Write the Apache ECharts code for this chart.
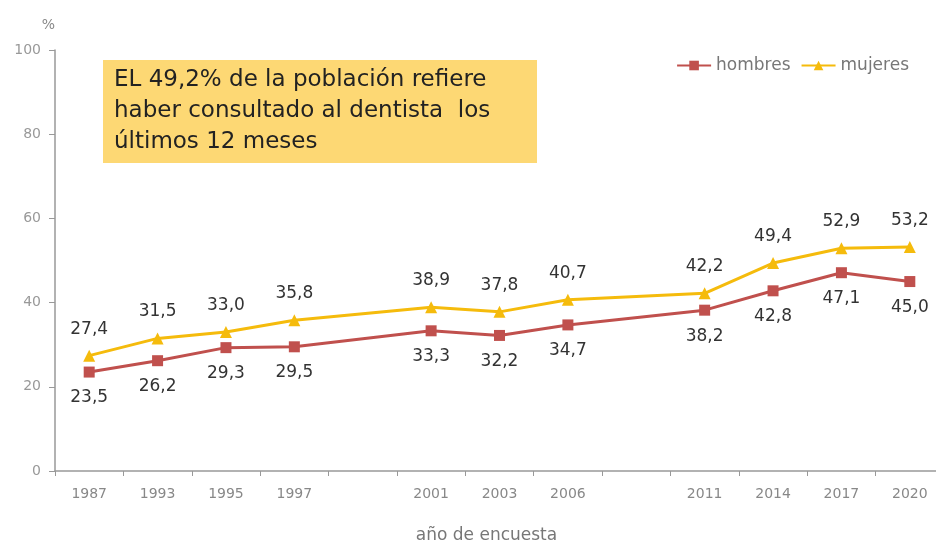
<!DOCTYPE html>
<html>
<head>
<meta charset="utf-8">
<script src="https://cdn.jsdelivr.net/npm/echarts@6/dist/echarts.min.js"></script>
<style>html,body{margin:0;padding:0;background:#fff}#c{width:936px;height:544px}</style>
</head>
<body>
<div id="c"></div>
<script>
var categories = ['1987','1993','1995','1997',' ','2001','2003','2006','  ','2011','2014','2017','2020'];
var hombres = [23.5,26.2,29.3,29.5,null,33.3,32.2,34.7,null,38.2,42.8,47.1,45.0];
var mujeres = [27.4,31.5,33.0,35.8,null,38.9,37.8,40.7,null,42.2,49.4,52.9,53.2];
var yTicks = [0,20,40,60,80,100];
var note = ['EL 49,2% de la población refiere','haber consultado al dentista  los','últimos 12 meses'];

var FONT = 'DejaVu Sans';
function fmt(p){ return p.value == null ? '' : p.value.toFixed(1).replace('.', ','); }

var chart = echarts.init(document.getElementById('c'));
chart.setOption({
  animation: false,
  textStyle: { fontFamily: FONT },
  grid: { left: 55, top: 50, width: 889, height: 421, containLabel: false, outerBoundsMode: 'none' },
  legend: {
    right: 22, top: 52, itemWidth: 34, itemHeight: 12, itemGap: 10,
    textStyle: { color: '#777', fontSize: 17, fontFamily: FONT },
    data: ['hombres','mujeres']
  },
  graphic: [
    { type: 'rect', left: 103, top: 60, shape: { width: 434, height: 103 }, style: { fill: '#FDD874' }, z: 10 },
    { type: 'text', left: 114, top: 65, z: 11,
      style: { text: note.join('\n'), fill: '#222', font: '23px "' + FONT + '"', lineHeight: 31 } }
  ],
  xAxis: {
    type: 'category', data: categories, boundaryGap: true,
    name: 'año de encuesta', nameLocation: 'middle', nameGap: 56,
    nameTextStyle: { color: '#777', fontSize: 17, padding: [0, 26, 0, 0] },
    axisLine: { lineStyle: { color: '#999', width: 1.5 } },
    axisTick: { show: true, length: 5, lineStyle: { color: '#999' } },
    axisLabel: { color: '#888', fontSize: 14, margin: 16 },
    splitLine: { show: false }
  },
  yAxis: {
    type: 'value', min: 0, max: 100, interval: 20,
    name: '%', nameGap: 18, nameTextStyle: { color: '#888', fontSize: 14, align: 'right' },
    axisLine: { show: true, lineStyle: { color: '#999', width: 1.5 } },
    axisTick: { show: true, length: 6, lineStyle: { color: '#999' } },
    axisLabel: { color: '#999', fontSize: 14, margin: 14,
      formatter: function(v){ return yTicks.indexOf(v) >= 0 ? String(v) : ''; } },
    splitLine: { show: false }
  },
  series: [
    { name: 'hombres', type: 'line', data: hombres, connectNulls: true,
      symbol: 'rect', symbolSize: 11,
      itemStyle: { color: '#C0504D' }, lineStyle: { color: '#C0504D', width: 3 },
      label: { show: true, position: 'bottom', distance: 12, color: '#333', fontSize: 17, formatter: fmt } },
    { name: 'mujeres', type: 'line', data: mujeres, connectNulls: true,
      symbol: 'triangle', symbolSize: 12,
      itemStyle: { color: '#F5BB0C' }, lineStyle: { color: '#F5BB0C', width: 3 },
      label: { show: true, position: 'top', distance: 12, color: '#333', fontSize: 17, formatter: fmt } }
  ]
});
</script>
</body>
</html>
